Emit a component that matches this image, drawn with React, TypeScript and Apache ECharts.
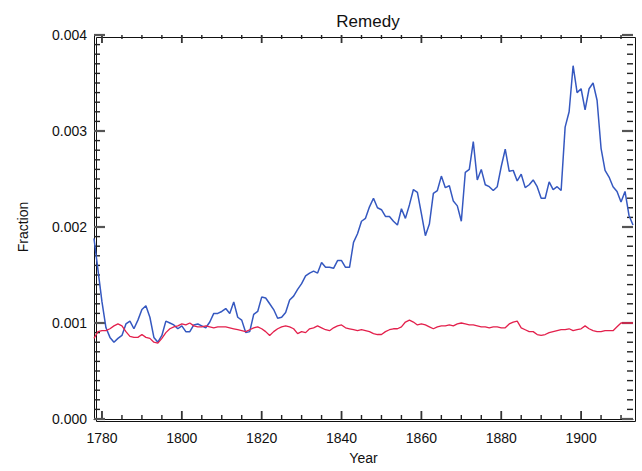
import React, { useEffect, useRef } from 'react';
import * as echarts from 'echarts';

const TITLE = 'Remedy';
const START_YEAR = 1778;
const X_MIN = 1778;
const X_MAX = 1913;

// Blue series, one value per year from 1778 to 1913
const BLUE_VALUES = [
  0.00188, 0.00155, 0.00122, 0.00095, 0.00085, 0.0008, 0.00084, 0.00087, 0.00099, 0.00102,
  0.00094, 0.00103, 0.00114, 0.00118, 0.00106, 0.00085, 0.0008, 0.00087, 0.00102, 0.001,
  0.00098, 0.00094, 0.00097, 0.00091, 0.00091, 0.00098, 0.00099, 0.00097, 0.00095, 0.00101,
  0.0011, 0.0011, 0.00112, 0.00115, 0.0011, 0.00122, 0.00106, 0.00103, 0.0009, 0.00091,
  0.00109, 0.00112, 0.00127, 0.00126, 0.0012, 0.00114, 0.00105, 0.00106, 0.00111, 0.00124,
  0.00128, 0.00135, 0.00141, 0.00149, 0.00152, 0.00154, 0.00152, 0.00163, 0.00158, 0.00158,
  0.00157, 0.00165, 0.00165, 0.00158, 0.00158, 0.00184, 0.00193, 0.00206, 0.00209, 0.00221,
  0.0023, 0.0022, 0.00218, 0.00211, 0.00211, 0.00206, 0.00202, 0.00219, 0.00209, 0.00223,
  0.00239, 0.00236, 0.00214, 0.00191, 0.00203, 0.00235, 0.00238, 0.00253, 0.00241, 0.00243,
  0.00227, 0.00222, 0.00206, 0.00257, 0.0026, 0.00289, 0.00249, 0.0026, 0.00244, 0.00242,
  0.00238, 0.00242, 0.00263, 0.00281, 0.00258, 0.00259, 0.00248, 0.00255, 0.00241, 0.00244,
  0.00249, 0.00242, 0.0023, 0.0023, 0.00247, 0.00239, 0.00242, 0.00238, 0.00304, 0.0032,
  0.00368, 0.0034, 0.00344, 0.00322, 0.00344, 0.0035, 0.00332, 0.00282, 0.00259, 0.00252,
  0.00242, 0.00237, 0.00226, 0.00237, 0.00212, 0.00202,
];

// Red series, one value per year from 1778 to 1913
const RED_VALUES = [
  0.00084, 0.00091, 0.00092, 0.00092, 0.00094, 0.00097, 0.00099, 0.00097, 0.00091, 0.00086,
  0.00085, 0.00085, 0.00088, 0.00085, 0.00084, 0.0008, 0.00079, 0.00084, 0.0009, 0.00094,
  0.00096, 0.00097, 0.00099, 0.00098, 0.001, 0.00097, 0.00096, 0.00096, 0.00097, 0.00096,
  0.00095, 0.00096, 0.00096, 0.00096, 0.00095, 0.00094, 0.00093, 0.00092, 0.00091, 0.00093,
  0.00095, 0.00096, 0.00094, 0.00091, 0.00087, 0.00091, 0.00094, 0.00096, 0.00097, 0.00096,
  0.00094, 0.00089, 0.00091, 0.0009, 0.00094, 0.00095, 0.00097, 0.00095, 0.00093, 0.00092,
  0.00095, 0.00097, 0.00098, 0.00095, 0.00094, 0.00093, 0.00092, 0.00093, 0.00092, 0.00091,
  0.00089, 0.00088, 0.00088, 0.00091, 0.00093, 0.00094, 0.00094, 0.00096, 0.00101, 0.00103,
  0.00101, 0.00098, 0.00099, 0.00098, 0.00096, 0.00094, 0.00096, 0.00097, 0.00097, 0.00098,
  0.00097, 0.00099, 0.001, 0.00099, 0.00098, 0.00098, 0.00097, 0.00096, 0.00096, 0.00095,
  0.00096, 0.00096, 0.00095, 0.00095, 0.00099, 0.00101, 0.00102, 0.00095, 0.00093, 0.00091,
  0.00091, 0.00088, 0.00087, 0.00088, 0.0009, 0.00091, 0.00092, 0.00093, 0.00093, 0.00094,
  0.00092, 0.00093, 0.00094, 0.00097, 0.00094, 0.00092, 0.00091, 0.00091, 0.00092, 0.00092,
  0.00092, 0.00096, 0.001, 0.001, 0.001, 0.001,
];

const MAJOR_YEAR_TICKS = [1780, 1800, 1820, 1840, 1860, 1880, 1900];
const MINOR_YEAR_TICKS = [
  1785, 1790, 1795, 1805, 1810, 1815, 1825, 1830, 1835, 1845,
  1850, 1855, 1865, 1870, 1875, 1885, 1890, 1895, 1905, 1910,
];
const Y_MIN = 0;
const Y_MAX = 0.004;
const Y_INTERVAL = 0.001;
const Y_MAJOR_TICKS = [0, 0.001, 0.002, 0.003, 0.004];
const Y_MINOR_PER_MAJOR = 10;

const FONT = 'Liberation Sans';
const BLUE = '#3558c0';
const RED = '#e3204c';
const AXIS_COLOR = '#111';

export default function App() {
  const ref = useRef<HTMLDivElement>(null);

  useEffect(() => {
    const chart = echarts.init(ref.current!, null, { renderer: 'svg' });
    const toPairs = (vals: number[]) => vals.map((v, i) => [START_YEAR + i, v]);

    const yMinorTicks: number[] = [];
    for (let i = 0; i < Y_MAJOR_TICKS.length - 1; i++) {
      for (let k = 1; k < Y_MINOR_PER_MAJOR; k++) {
        yMinorTicks.push(Y_MAJOR_TICKS[i] + (k * Y_INTERVAL) / Y_MINOR_PER_MAJOR);
      }
    }

    // Tick marks drawn by a custom series, positioned through the axes' scales
    const renderTicks = (_p: any, api: any) => {
      const children: any[] = [];
      const seg = (x1: number, y1: number, x2: number, y2: number, color: string, w: number) => {
        children.push({
          type: 'line',
          shape: { x1, y1, x2, y2 },
          style: { stroke: color, lineWidth: w },
        });
      };
      const xTick = (year: number, len: number, color: string, w: number) => {
        const b = api.coord([year, Y_MIN]);
        const t = api.coord([year, Y_MAX]);
        seg(b[0], b[1], b[0], b[1] - len, color, w);
        seg(t[0], t[1], t[0], t[1] + len, color, w);
      };
      const yTick = (v: number, len: number, color: string, w: number) => {
        const l = api.coord([X_MIN, v]);
        const r = api.coord([X_MAX, v]);
        seg(l[0], l[1], l[0] + len, l[1], color, w);
        seg(r[0], r[1], r[0] - len, r[1], color, w);
      };
      MINOR_YEAR_TICKS.forEach((y) => xTick(y, 4, '#222', 1.4));
      MAJOR_YEAR_TICKS.forEach((y) => xTick(y, 8, '#333', 1.8));
      yMinorTicks.forEach((v) => yTick(v, 6, '#222', 1.4));
      Y_MAJOR_TICKS.forEach((v) => yTick(v, 11, '#555', 2.2));
      return { type: 'group', children };
    };

    chart.setOption({
      animation: false,
      title: {
        text: TITLE,
        left: 363,
        textAlign: 'center',
        top: 8,
        textStyle: { fontFamily: FONT, fontSize: 17, fontWeight: 'normal', color: '#111' },
      },
      grid: { left: 94, right: 9, top: 35, bottom: 52 },
      xAxis: {
        type: 'value',
        min: X_MIN,
        max: X_MAX,
        splitLine: { show: false },
        axisLine: { show: true, onZero: false, lineStyle: { color: AXIS_COLOR, width: 1 } },
        axisTick: { show: false },
        axisLabel: {
          show: true,
          customValues: MAJOR_YEAR_TICKS,
          margin: 12,
          fontFamily: FONT,
          fontSize: 14,
          color: '#111',
          formatter: (v: number) => String(v),
        },
        name: 'Year',
        nameLocation: 'middle',
        nameGap: 32,
        nameTextStyle: { fontFamily: FONT, fontSize: 14, color: '#111' },
      },
      yAxis: {
        type: 'value',
        min: Y_MIN,
        max: Y_MAX,
        interval: Y_INTERVAL,
        splitLine: { show: false },
        axisLine: { show: true, onZero: false, lineStyle: { color: AXIS_COLOR, width: 1 } },
        axisTick: { show: false },
        axisLabel: {
          show: true,
          margin: 7,
          fontFamily: FONT,
          fontSize: 14,
          color: '#111',
          formatter: (v: number) => v.toFixed(3),
        },
        name: 'Fraction',
        nameLocation: 'middle',
        nameGap: 64,
        nameRotate: 90,
        nameTextStyle: { fontFamily: FONT, fontSize: 14, color: '#111' },
      },
      graphic: {
        elements: [
          {
            type: 'rect',
            left: 94,
            top: 35,
            shape: { width: 539, height: 384 },
            style: { fill: 'none', stroke: AXIS_COLOR, lineWidth: 1 },
            silent: true,
          },
        ],
      },
      series: [
        {
          type: 'custom',
          data: [[X_MIN, Y_MIN]],
          renderItem: renderTicks,
        },
        {
          type: 'line',
          data: toPairs(BLUE_VALUES),
          showSymbol: false,
          symbol: 'none',
          lineStyle: { color: BLUE, width: 1.5 },
        },
        {
          type: 'line',
          data: toPairs(RED_VALUES),
          showSymbol: false,
          symbol: 'none',
          lineStyle: { color: RED, width: 1.3 },
        },
      ],
    });

    return () => chart.dispose();
  }, []);

  return (
    <div
      ref={ref}
      style={{ position: 'absolute', left: 0, top: 0, width: 642, height: 471 }}
    />
  );
}
